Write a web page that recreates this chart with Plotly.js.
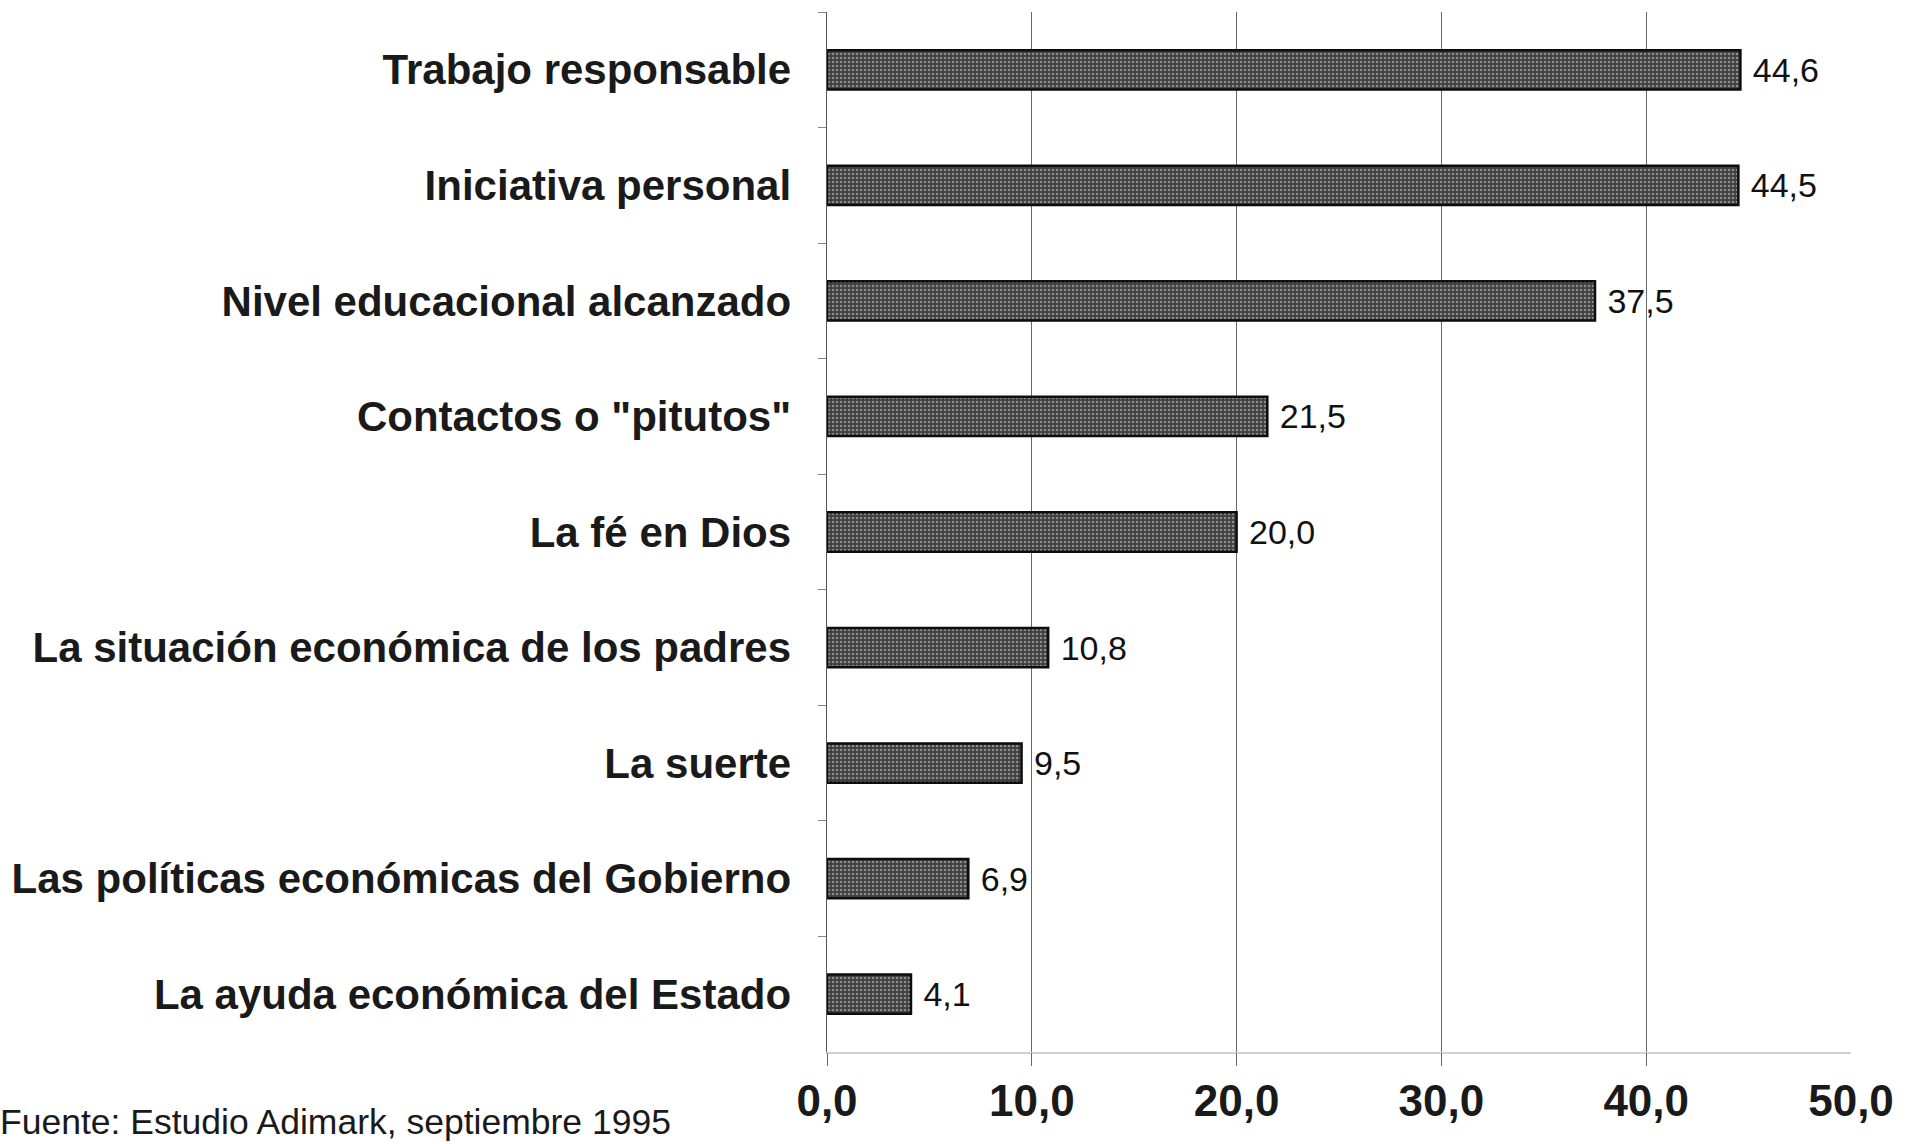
<!DOCTYPE html>
<html>
<head>
<meta charset="utf-8">
<script src="https://cdn.plot.ly/plotly-3.0.1.min.js"></script>
<style>
  html, body { margin: 0; padding: 0; background: #ffffff; }
  #chart { width: 1920px; height: 1144px; }
</style>
</head>
<body>
<div id="chart"></div>
<script>
const categories = [
  'Trabajo responsable',
  'Iniciativa personal',
  'Nivel educacional alcanzado',
  'Contactos o "pitutos"',
  'La fé en Dios',
  'La situación económica de los padres',
  'La suerte',
  'Las políticas económicas del Gobierno',
  'La ayuda económica del Estado'
];
const values = [44.6, 44.5, 37.5, 21.5, 20.0, 10.8, 9.5, 6.9, 4.1];
const xTickValues = [0, 10, 20, 30, 40, 50];
const xTickLabels = ['0,0', '10,0', '20,0', '30,0', '40,0', '50,0'];
const gridValues = [0, 10, 20, 30, 40];
const sourceNote = 'Fuente: Estudio Adimark, septiembre 1995';

const valueLabels = values.map(v => '\u00a0' + v.toFixed(1).replace('.', ','));

const W = 1920, H = 1144;
const margin = { l: 827, r: 69, t: 12, b: 92 };
const plotW = W - margin.l - margin.r;
const plotH = H - margin.t - margin.b;

const FONT = '"Liberation Sans", Arial, sans-serif';

const trace = {
  type: 'bar',
  orientation: 'h',
  y: categories,
  x: values,
  width: 0.34,
  marker: {
    color: '#454545',
    line: { color: '#0d0d0d', width: 2.5 },
    pattern: { shape: '.', fgcolor: '#8c8c8c', bgcolor: '#3e3e3e', size: 4, solidity: 0.35 }
  },
  text: valueLabels,
  textposition: 'outside',
  cliponaxis: false,
  textfont: { family: FONT, size: 34, color: '#111111' },
  hoverinfo: 'skip'
};

// invisible helper trace on the grid axis
const gridTrace = {
  type: 'scatter',
  x: [0],
  y: [categories[0]],
  xaxis: 'x2',
  mode: 'markers',
  marker: { opacity: 0 },
  hoverinfo: 'skip',
  showlegend: false
};

const layout = {
  width: W,
  height: H,
  margin: margin,
  paper_bgcolor: '#ffffff',
  plot_bgcolor: 'rgba(0,0,0,0)',
  showlegend: false,
  xaxis: {
    range: [0, 50],
    tickvals: xTickValues,
    ticktext: xTickLabels,
    showgrid: false,
    zeroline: false,
    showline: true,
    linecolor: '#d2d2d2',
    linewidth: 1.5,
    ticks: '',
    ticklabelstandoff: 10,
    tickfont: { family: FONT, size: 44, color: '#1a1a1a', weight: 'bold' },
    fixedrange: true
  },
  xaxis2: {
    range: [0, 50],
    overlaying: 'x',
    side: 'bottom',
    tickvals: gridValues,
    showticklabels: false,
    showgrid: true,
    gridcolor: '#6a6a6a',
    gridwidth: 1,
    zeroline: false,
    ticks: 'outside',
    ticklen: 13,
    tickcolor: '#6a6a6a',
    tickwidth: 1,
    showline: false,
    fixedrange: true
  },
  yaxis: {
    autorange: 'reversed',
    showgrid: false,
    zeroline: false,
    showline: true,
    linecolor: '#555555',
    linewidth: 1.5,
    ticks: 'outside',
    tickson: 'boundaries',
    ticklen: 8,
    tickcolor: '#888888',
    tickwidth: 1,
    ticklabelstandoff: 26,
    tickfont: { family: FONT, size: 42, color: '#1a1a1a', weight: 'bold' },
    fixedrange: true
  },
  annotations: [{
    text: sourceNote,
    xref: 'paper',
    yref: 'paper',
    x: -(margin.l + 2) / plotW,
    y: -(1122 - (H - margin.b)) / plotH,
    xanchor: 'left',
    yanchor: 'middle',
    showarrow: false,
    font: { family: FONT, size: 35.5, color: '#1a1a1a' }
  }]
};

Plotly.newPlot('chart', [trace, gridTrace], layout, { displayModeBar: false, staticPlot: true });
</script>
</body>
</html>
